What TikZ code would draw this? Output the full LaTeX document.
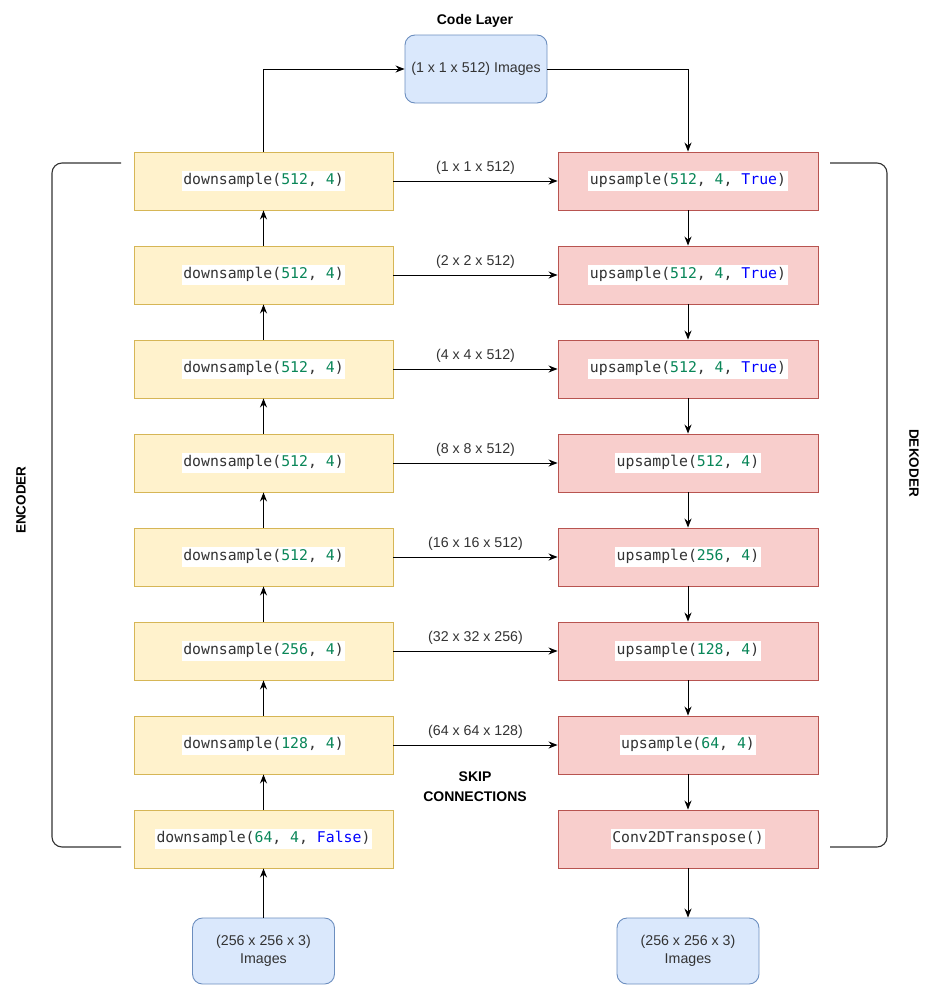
\documentclass[tikz,border=0pt]{standalone}
\usepackage{fontspec}
\setmainfont{Liberation Sans}
\newfontfamily\codefont{DejaVu Sans Mono}
\usetikzlibrary{arrows.meta}
\definecolor{encF}{HTML}{FFF2CC}
\definecolor{encS}{HTML}{D6B656}
\definecolor{decF}{HTML}{F8CECC}
\definecolor{decS}{HTML}{B85450}
\definecolor{imgF}{HTML}{DAE8FC}
\definecolor{imgS}{HTML}{6C8EBF}
\definecolor{numc}{HTML}{098658}
\definecolor{kwc}{HTML}{0000FF}
\definecolor{txt}{HTML}{333333}
\newcommand\nm[1]{\textcolor{numc}{#1}}
\newcommand\kw[1]{\textcolor{kwc}{#1}}
\newcommand\cd[1]{{\setlength\fboxsep{1.5pt}\colorbox{white}{\codefont\fontsize{14.8}{17}\selectfont\color{txt}\strut #1}}}
\tikzset{
  encbox/.style={draw=encS, fill=encF, line width=0.9pt, minimum width=259pt, minimum height=58pt, inner sep=0pt},
  decbox/.style={draw=decS, fill=decF, line width=0.9pt, minimum width=260pt, minimum height=58pt, inner sep=0pt},
  imgbox/.style={draw=imgS, fill=imgF, line width=0.9pt, rounded corners=10pt, minimum width=142pt, minimum height=68pt, inner sep=0pt, align=center, font=\fontsize{14.2}{18.5}\selectfont, text=txt},
  arr/.style={-{Stealth[length=9pt,width=7pt]}, line width=1pt, black},
  skiplbl/.style={font=\fontsize{14.2}{16}\selectfont, text=txt, fill=white, inner sep=1pt},
  boldlbl/.style={font=\bfseries\fontsize{14}{19}\selectfont, text=black, align=center},
  brk/.style={line width=1.1pt, draw=txt, rounded corners=10pt}
}
\begin{document}
\begin{tikzpicture}[x=1pt,y=-1pt]
\useasboundingbox (0,0) rectangle (925,985);
% encoder
\node[encbox] (e1) at (263.5,181) {\cd{downsample(\nm{512}, \nm{4})}};
\node[encbox] (e2) at (263.5,275) {\cd{downsample(\nm{512}, \nm{4})}};
\node[encbox] (e3) at (263.5,369) {\cd{downsample(\nm{512}, \nm{4})}};
\node[encbox] (e4) at (263.5,463) {\cd{downsample(\nm{512}, \nm{4})}};
\node[encbox] (e5) at (263.5,557) {\cd{downsample(\nm{512}, \nm{4})}};
\node[encbox] (e6) at (263.5,651) {\cd{downsample(\nm{256}, \nm{4})}};
\node[encbox] (e7) at (263.5,745) {\cd{downsample(\nm{128}, \nm{4})}};
\node[encbox] (e8) at (263.5,839) {\cd{downsample(\nm{64}, \nm{4}, \kw{False})}};
% decoder
\node[decbox] (d1) at (688,181) {\cd{upsample(\nm{512}, \nm{4}, \kw{True})}};
\node[decbox] (d2) at (688,275) {\cd{upsample(\nm{512}, \nm{4}, \kw{True})}};
\node[decbox] (d3) at (688,369) {\cd{upsample(\nm{512}, \nm{4}, \kw{True})}};
\node[decbox] (d4) at (688,463) {\cd{upsample(\nm{512}, \nm{4})}};
\node[decbox] (d5) at (688,557) {\cd{upsample(\nm{256}, \nm{4})}};
\node[decbox] (d6) at (688,651) {\cd{upsample(\nm{128}, \nm{4})}};
\node[decbox] (d7) at (688,745) {\cd{upsample(\nm{64}, \nm{4})}};
\node[decbox] (d8) at (688,839) {\cd{Conv2DTranspose()}};
% images
\node[imgbox] (code) at (476,69) {(1 x 1 x 512) Images};
\node[boldlbl] (codelbl) at (475,21) {Code Layer};
\node[imgbox, minimum height=66pt] (inimg) at (263.5,951) {(256 x 256 x 3)\\Images};
\node[imgbox, minimum height=66pt] (outimg) at (688,951) {(256 x 256 x 3)\\Images};
% encoder arrows
\draw[arr] (inimg.north) -- (e8.south);
\draw[arr] (e8.north) -- (e7.south);
\draw[arr] (e7.north) -- (e6.south);
\draw[arr] (e6.north) -- (e5.south);
\draw[arr] (e5.north) -- (e4.south);
\draw[arr] (e4.north) -- (e3.south);
\draw[arr] (e3.north) -- (e2.south);
\draw[arr] (e2.north) -- (e1.south);
\draw[arr] (e1.north) |- (code.west);
\draw[arr] (code.east) -| (d1.north);
% decoder arrows
\draw[arr] (d1.south) -- (d2.north);
\draw[arr] (d2.south) -- (d3.north);
\draw[arr] (d3.south) -- (d4.north);
\draw[arr] (d4.south) -- (d5.north);
\draw[arr] (d5.south) -- (d6.north);
\draw[arr] (d6.south) -- (d7.north);
\draw[arr] (d7.south) -- (d8.north);
\draw[arr] (d8.south) -- (outimg.north);
% skip connections
\draw[arr] (e1.east) -- (d1.west) node[skiplbl, midway, yshift=13pt] (s1) {(1 x 1 x 512)};
\draw[arr] (e2.east) -- (d2.west) node[skiplbl, midway, yshift=13pt] (s2) {(2 x 2 x 512)};
\draw[arr] (e3.east) -- (d3.west) node[skiplbl, midway, yshift=13pt] (s3) {(4 x 4 x 512)};
\draw[arr] (e4.east) -- (d4.west) node[skiplbl, midway, yshift=13pt] (s4) {(8 x 8 x 512)};
\draw[arr] (e5.east) -- (d5.west) node[skiplbl, midway, yshift=13pt] (s5) {(16 x 16 x 512)};
\draw[arr] (e6.east) -- (d6.west) node[skiplbl, midway, yshift=13pt] (s6) {(32 x 32 x 256)};
\draw[arr] (e7.east) -- (d7.west) node[skiplbl, midway, yshift=13pt] (s7) {(64 x 64 x 128)};
\node[boldlbl, font=\bfseries\fontsize{14}{20}\selectfont] (skip) at (475,787) {SKIP\\CONNECTIONS};
% brackets
\coordinate (lb1) at (121,163);
\coordinate (lb2) at (52,163);
\coordinate (lb3) at (52,847);
\coordinate (lb4) at (121,847);
\draw[brk] (lb1) -- (lb2) -- (lb3) -- (lb4);
\coordinate (rb1) at (830,163);
\coordinate (rb2) at (887,163);
\coordinate (rb3) at (887,847);
\coordinate (rb4) at (830,847);
\draw[brk] (rb1) -- (rb2) -- (rb3) -- (rb4);
\node[boldlbl, font=\bfseries\fontsize{13.5}{18}\selectfont, rotate=90] (enc) at (21,500) {ENCODER};
\node[boldlbl, font=\bfseries\fontsize{13.5}{18}\selectfont, rotate=-90] (dek) at (914,463) {DEKODER};
\end{tikzpicture}
\end{document}
